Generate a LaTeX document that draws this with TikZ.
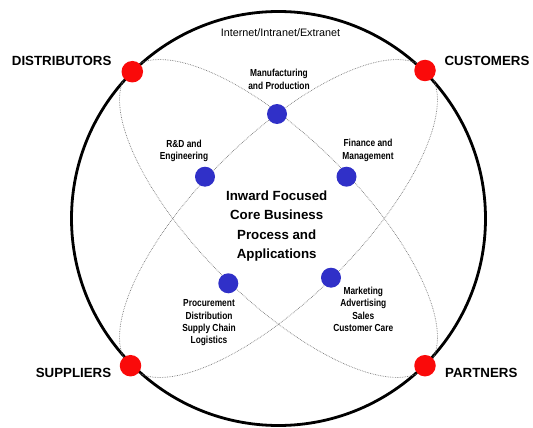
\documentclass[tikz,border=0pt]{standalone}
\usepackage{fontspec}
\setmainfont{Liberation Sans}
\newfontfamily\nbf{Liberation Sans}[FakeStretch=0.82]
\definecolor{dotred}{RGB}{250,10,10}
\definecolor{dotblue}{RGB}{48,48,200}
\definecolor{loopgray}{RGB}{120,120,120}
\tikzset{
  reddot/.style={circle,fill=dotred,inner sep=0pt,minimum size=21.5pt},
  bluedot/.style={circle,fill=dotblue,inner sep=0pt,minimum size=20pt},
  party/.style={font=\fontsize{13.3}{16}\selectfont\bfseries,inner sep=0pt},
  func/.style={font=\nbf\bfseries\fontsize{10.2}{12.3}\selectfont,align=center,inner sep=0pt},
  core/.style={font=\fontsize{13.3}{19.6}\selectfont\bfseries,align=center,inner sep=0pt},
  net/.style={font=\fontsize{10.8}{13}\selectfont,inner sep=0pt},
  rim/.style={draw=black,line width=2.8pt},
  loop/.style={draw=loopgray,line width=0.7pt,densely dotted}
}
\begin{document}
\begin{tikzpicture}[x=1pt,y=-1pt]
\useasboundingbox (0,0) rectangle (533,428);
\coordinate (c) at (278.5,218.5);
% outer circle
\draw[rim] (c) circle[radius=207pt];
% two tilted loops
\draw[loop,rotate around={45:(c)}] (c) ellipse[x radius=210pt,y radius=80pt];
\draw[loop,rotate around={-45:(c)}] (c) ellipse[x radius=210pt,y radius=80pt];
% partner dots
\node[reddot] (dist) at (132.3,71.7) {};
\node[reddot] (cust) at (425,70.5) {};
\node[reddot] (supp) at (130.5,365.7) {};
\node[reddot] (part) at (425,365.7) {};
% function dots
\node[bluedot] (manu) at (277,114) {};
\node[bluedot] (rnd) at (205,176.7) {};
\node[bluedot] (fin) at (346.5,176.7) {};
\node[bluedot] (proc) at (228.3,283.3) {};
\node[bluedot] (mkt) at (331,277.7) {};
% labels
\node[party] (distl) at (61.7,60.7) {DISTRIBUTORS};
\node[party] (custl) at (487,60.7) {CUSTOMERS};
\node[party] (suppl) at (73.5,372.7) {SUPPLIERS};
\node[party] (partl) at (481.3,372.7) {PARTNERS};
\node[net] (netl) at (280.5,32.5) {Internet/Intranet/Extranet};
\node[func] (manul) at (279,79.5) {Manufacturing\\and Production};
\node[func] (rndl) at (184,151) {R\&D and\\Engineering};
\node[func] (finl) at (368,150.5) {Finance and\\Management};
\node[func] (procl) at (209,323) {Procurement\\Distribution\\Supply Chain\\Logistics};
\node[func] (mktl) at (363.3,309.5) {Marketing\\Advertising\\Sales\\Customer Care};
\node[core] (corel) at (276.7,226) {Inward Focused\\Core Business\\Process and\\Applications};
\end{tikzpicture}
\end{document}
